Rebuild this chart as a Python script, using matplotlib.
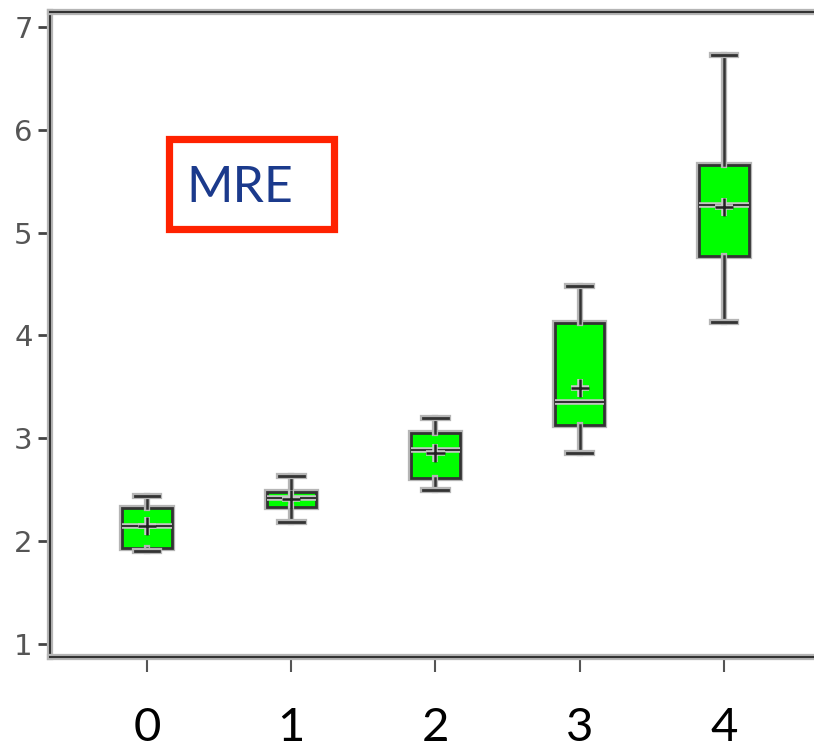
import matplotlib
matplotlib.use('Agg')
import matplotlib.pyplot as plt
import matplotlib.patheffects as pe
from matplotlib.patches import Rectangle

categories = ['0', '1', '2', '3', '4']
whislo = [1.90, 2.19, 2.50, 2.86, 4.13]
q1 = [1.93, 2.335, 2.61, 3.13, 4.77]
med = [2.15, 2.42, 2.89, 3.35, 5.27]
q3 = [2.325, 2.48, 3.05, 4.12, 5.66]
whishi = [2.44, 2.63, 3.195, 4.48, 6.73]
means = [2.15, 2.41, 2.855, 3.49, 5.25]
yticks = [1, 2, 3, 4, 5, 6, 7]
label_text = 'MRE'

W, H = 814, 749
fig = plt.figure(figsize=(W / 100, H / 100), dpi=100)
ax = fig.add_axes([50 / W, (H - 657) / H, (W - 50) / W, (657 - 12) / H])

stats = [dict(whislo=a, q1=b, med=c, q3=d, whishi=e, mean=m, label=l)
         for a, b, c, d, e, m, l in zip(whislo, q1, med, q3, whishi, means, categories)]

halo = [pe.withStroke(linewidth=4.5, foreground='#b5b5b5')]
halo_thin = [pe.withStroke(linewidth=4, foreground='#c8c8c8')]

ax.bxp(stats, positions=range(len(categories)), widths=0.34, capwidths=0.17,
       showmeans=True, meanline=False, patch_artist=True, showfliers=False,
       boxprops=dict(facecolor='#00ff00', edgecolor='#333333', linewidth=2, path_effects=halo),
       whiskerprops=dict(color='#333333', linewidth=1.8, path_effects=halo),
       capprops=dict(color='#333333', linewidth=2, path_effects=halo),
       medianprops=dict(color='#333333', linewidth=1.5, path_effects=halo_thin),
       meanprops=dict(marker='+', markersize=13, markeredgecolor='#222222',
                      markeredgewidth=1.8, path_effects=halo_thin))

ax.set_xlim(-0.6725, 4.624)
ax.set_ylim(0.873, 7.146)
ax.set_xticks(range(len(categories)))
ax.set_xticklabels(categories, fontsize=34, family=['Lato', 'DejaVu Sans'], color='black')
ax.set_yticks(yticks)
ax.set_yticklabels([str(v) for v in yticks], fontsize=21,
                   family=['Liberation Sans Narrow', 'DejaVu Sans'], color='#555555')
ax.tick_params(axis='x', direction='out', length=11, width=1.5, color='#555555', pad=25)
ax.tick_params(axis='y', direction='out', length=8.5, width=2, color='#444444', pad=4)

for s in ['left', 'top', 'bottom']:
    ax.spines[s].set_color('#333333')
    ax.spines[s].set_linewidth(1.5)
    ax.spines[s].set_path_effects(halo)
ax.spines['right'].set_visible(False)

fig.add_artist(Rectangle((169 / W, (H - 229) / H), (334 - 169) / W, (229 - 138.5) / H,
                         transform=fig.transFigure, fill=False, edgecolor='#ff2200',
                         linewidth=5.2))
fig.text(240 / W, (H - 202) / H, label_text, ha='center', va='baseline', fontsize=36,
         family=['Lato', 'DejaVu Sans'], color='#1b3a8c')

fig.savefig('out.png', dpi=100)
